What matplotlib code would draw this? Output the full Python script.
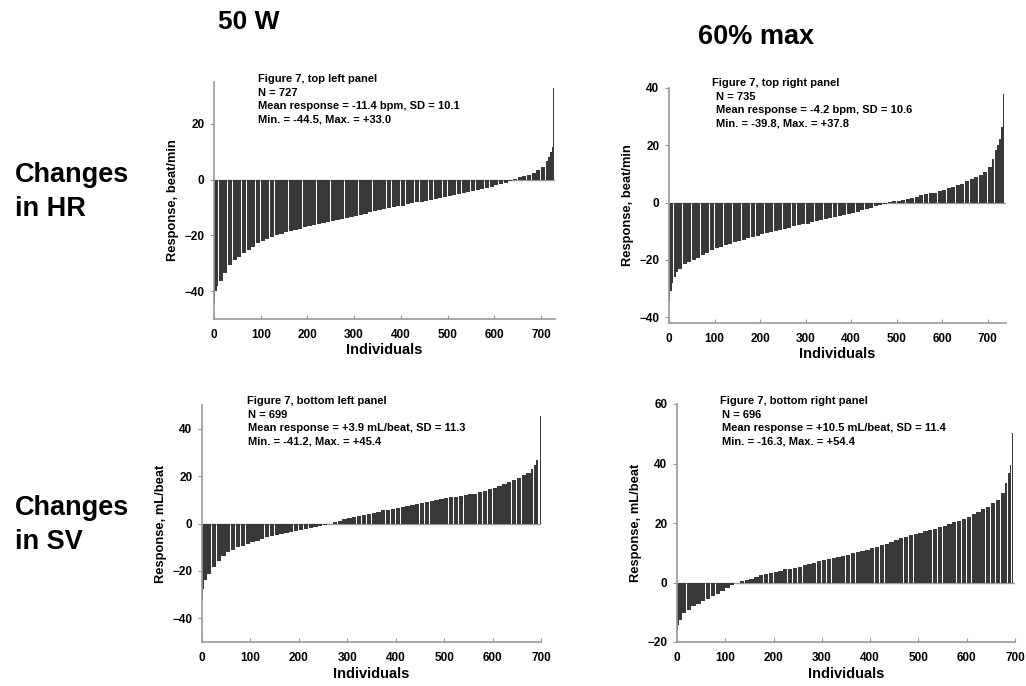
import numpy as np
import matplotlib
matplotlib.use("Agg")
import matplotlib.pyplot as plt

plt.rcParams['font.family'] = ['Liberation Sans', 'DejaVu Sans']
plt.rcParams['font.weight'] = 'bold'

# ranks (sorted individual index) and response values
tl_rank = [0, 3, 6, 10, 20, 30, 40, 50, 60, 70, 80, 90, 100, 110, 120, 130, 140, 150, 160, 170,
           180, 190, 200, 210, 220, 230, 240, 250, 260, 270, 280, 290, 300, 310, 320, 330, 340,
           350, 360, 370, 380, 390, 400, 410, 420, 430, 440, 450, 460, 470, 480, 490, 500, 510,
           520, 530, 540, 550, 560, 570, 580, 590, 600, 610, 620, 630, 640, 650, 660, 670, 680,
           690, 700, 710, 715, 720, 724, 726]
tl_val = [-44.5, -40.0, -38.0, -36.5, -33.5, -30.8, -29.0, -27.7, -26.4, -25.2, -24.0, -22.8,
          -22.0, -21.3, -20.6, -20.0, -19.4, -18.9, -18.4, -18.0, -17.6, -17.1, -16.7, -16.3,
          -15.9, -15.5, -15.2, -14.8, -14.4, -14.0, -13.7, -13.3, -13.0, -12.6, -12.2, -11.8,
          -11.3, -11.0, -10.6, -10.2, -9.9, -9.6, -9.3, -8.9, -8.5, -8.2, -7.9, -7.6, -7.3,
          -6.9, -6.5, -6.1, -5.8, -5.4, -5.1, -4.8, -4.5, -4.1, -3.7, -3.3, -2.9, -2.5, -2.1,
          -1.6, -1.1, -0.4, 0.3, 0.8, 1.2, 1.7, 2.4, 3.6, 4.6, 6.8, 8.0, 9.8, 11.8, 33.0]

tr_rank = [0, 3, 6, 10, 15, 20, 30, 40, 50, 60, 70, 80, 90, 100, 110, 120, 130, 140, 150, 160,
           170, 180, 190, 200, 210, 220, 230, 240, 250, 260, 270, 280, 290, 300, 310, 320, 330,
           340, 350, 360, 370, 380, 390, 400, 410, 420, 430, 440, 450, 460, 470, 480, 490, 500,
           510, 520, 530, 540, 550, 560, 570, 580, 590, 600, 610, 620, 630, 640, 650, 660, 670,
           680, 690, 700, 710, 715, 720, 725, 730, 733, 734]
tr_val = [-34.5, -31.0, -28.0, -25.9, -24.2, -23.0, -21.3, -20.7, -20.1, -19.2, -18.4, -17.6,
          -16.6, -16.0, -15.4, -14.9, -14.3, -13.7, -13.3, -12.9, -12.4, -12.0, -11.5, -11.0,
          -10.6, -10.2, -10.0, -9.7, -9.2, -8.8, -8.3, -7.9, -7.6, -7.3, -6.9, -6.5, -6.0,
          -5.6, -5.3, -5.0, -4.6, -4.2, -3.9, -3.6, -3.2, -2.7, -2.2, -1.7, -1.3, -0.9, -0.5,
          0.1, 0.4, 0.6, 1.0, 1.4, 1.7, 2.0, 2.5, 2.9, 3.2, 3.5, 4.0, 4.5, 5.0, 5.5, 6.0, 6.6,
          7.5, 8.4, 9.0, 9.5, 10.7, 12.4, 15.3, 18.3, 20.0, 22.3, 26.4, 28.7, 37.8]

bl_rank = [0, 3, 5, 10, 20, 30, 40, 50, 60, 70, 80, 90, 100, 110, 120, 130, 140, 150, 160, 170,
           180, 190, 200, 210, 220, 230, 240, 250, 260, 270, 280, 290, 300, 310, 320, 330, 340,
           350, 360, 370, 380, 390, 400, 410, 420, 430, 440, 450, 460, 470, 480, 490, 500, 510,
           520, 530, 540, 550, 560, 570, 580, 590, 600, 610, 620, 630, 640, 650, 660, 670, 680,
           685, 690, 695, 697, 698]
bl_val = [-32.4, -27.6, -24.0, -21.3, -18.5, -15.7, -13.6, -12.2, -11.2, -10.1, -9.4, -8.7,
          -8.0, -7.3, -6.6, -5.9, -5.3, -4.9, -4.5, -4.0, -3.5, -3.1, -2.7, -2.2, -1.7, -1.3,
          -1.0, -0.5, 0.0, 0.5, 1.1, 1.7, 2.2, 2.7, 3.2, 3.7, 4.2, 4.6, 5.0, 5.5, 5.9, 6.3,
          6.7, 7.0, 7.4, 7.8, 8.1, 8.6, 9.1, 9.4, 9.8, 10.2, 10.6, 11.0, 11.3, 11.7, 12.0, 12.3,
          12.6, 13.1, 13.7, 14.4, 15.1, 15.9, 16.8, 17.5, 18.3, 19.3, 20.3, 21.4, 23.2, 24.8,
          27.0, 31.9, 39.6, 45.4]

br_rank = [0, 3, 5, 10, 20, 30, 40, 50, 60, 70, 80, 90, 100, 110, 120, 130, 140, 150, 160, 170,
           180, 190, 200, 210, 220, 230, 240, 250, 260, 270, 280, 290, 300, 310, 320, 330, 340,
           350, 360, 370, 380, 390, 400, 410, 420, 430, 440, 450, 460, 470, 480, 490, 500, 510,
           520, 530, 540, 550, 560, 570, 580, 590, 600, 610, 620, 630, 640, 650, 660, 670, 680,
           685, 690, 693, 694, 695]
br_val = [-16.1, -14.4, -12.7, -10.4, -9.1, -8.0, -7.1, -6.2, -5.4, -4.6, -3.7, -2.8, -1.7,
          -0.9, 0.0, 0.4, 0.8, 1.3, 1.9, 2.5, 3.0, 3.3, 3.6, 4.0, 4.4, 4.7, 4.9, 5.3, 5.8, 6.2,
          6.6, 7.1, 7.5, 7.9, 8.3, 8.7, 9.0, 9.4, 9.8, 10.2, 10.6, 11.0, 11.5, 12.0, 12.6, 13.0,
          13.5, 14.2, 14.8, 15.4, 16.0, 16.4, 16.7, 17.2, 17.6, 18.0, 18.5, 19.0, 19.6, 20.2,
          20.8, 21.4, 22.1, 22.9, 23.8, 24.6, 25.5, 26.6, 27.8, 30.0, 33.4, 36.7, 39.6, 43.5,
          50.2, 54.4]

titles = ["Figure 7, top left panel", "Figure 7, top right panel",
          "Figure 7, bottom left panel", "Figure 7, bottom right panel"]
stats = [["N = 727", "Mean response = -11.4 bpm, SD = 10.1", "Min. = -44.5, Max. = +33.0"],
         ["N = 735", "Mean response = -4.2 bpm, SD = 10.6", "Min. = -39.8, Max. = +37.8"],
         ["N = 699", "Mean response = +3.9 mL/beat, SD = 11.3", "Min. = -41.2, Max. = +45.4"],
         ["N = 696", "Mean response = +10.5 mL/beat, SD = 11.4", "Min. = -16.3, Max. = +54.4"]]
ylabels = ["Response, beat/min", "Response, beat/min", "Response, mL/beat", "Response, mL/beat"]

W, H = 1026, 686
fig = plt.figure(figsize=(W / 100, H / 100), dpi=100)


def px_axes(l, t, r, b):
    return fig.add_axes([l / W, 1 - b / H, (r - l) / W, (b - t) / H])


panels = [
    dict(box=(214, 82, 555, 319), rank=tl_rank, val=tl_val, xlim=(0, 730), ylim=(-50, 35),
         yt=[-40, -20, 0, 20], txt=(258, 79, 258)),
    dict(box=(669, 88, 1006, 323), rank=tr_rank, val=tr_val, xlim=(0, 740), ylim=(-42, 40),
         yt=[-40, -20, 0, 20, 40], txt=(712, 83, 716)),
    dict(box=(202, 405, 541, 642), rank=bl_rank, val=bl_val, xlim=(0, 700), ylim=(-50, 50),
         yt=[-40, -20, 0, 20, 40], txt=(247, 401, 248)),
    dict(box=(677, 404, 1015, 642), rank=br_rank, val=br_val, xlim=(0, 700), ylim=(-20, 60),
         yt=[-20, 0, 20, 40, 60], txt=(720, 401, 722)),
]

grey = '#9a9a9a'
for i, p in enumerate(panels):
    ax = px_axes(*p['box'])
    r = np.array(p['rank'], dtype=float)
    v = np.array(p['val'])
    w = np.append(np.diff(r), 1.0) * 0.88
    w[-1] = 1.0
    ax.bar(r, v, width=w, align='edge', color='#383838', linewidth=0)
    ax.axhline(0, color=grey, lw=1, zorder=0)
    ax.set_xlim(*p['xlim'])
    ax.set_ylim(*p['ylim'])
    ax.set_xticks(range(0, 701, 100))
    ax.set_yticks(p['yt'])
    for s in ['top', 'right']:
        ax.spines[s].set_visible(False)
    for s in ['left', 'bottom']:
        ax.spines[s].set_color(grey)
        ax.spines[s].set_linewidth(1.2)
    ax.tick_params(axis='x', direction='in', length=3, color=grey, labelsize=8.5, pad=7)
    ax.tick_params(axis='y', direction='out', length=3, color=grey, labelsize=8.5, pad=4)
    for lab in ax.get_xticklabels() + ax.get_yticklabels():
        lab.set_fontweight('bold')
    ax.set_xlabel("Individuals", fontsize=10.5, fontweight='bold', labelpad=2)
    ax.set_ylabel(ylabels[i], fontsize=9.3, fontweight='bold', labelpad=4)

    tx, ty, tx2 = p['txt']
    fig.text(tx / W, 1 - ty / H, titles[i], fontsize=8, fontweight='bold', va='center')
    for j, line in enumerate(stats[i]):
        fig.text(tx2 / W, 1 - (ty + 14 + 13 * j) / H, line, fontsize=8,
                 fontweight='bold', va='center')

fig.text(249 / W, 1 - 22 / H, "50 W", fontsize=19, fontweight='bold', ha='center', va='center')
fig.text(756 / W, 1 - 37 / H, "60% max", fontsize=19.5, fontweight='bold', ha='center', va='center')
fig.text(15 / W, 1 - 162 / H, "Changes\nin HR", fontsize=19.5, fontweight='bold', va='top',
         linespacing=1.38)
fig.text(15 / W, 1 - 495 / H, "Changes\nin SV", fontsize=19.5, fontweight='bold', va='top',
         linespacing=1.38)

fig.savefig("out.png", dpi=100)
